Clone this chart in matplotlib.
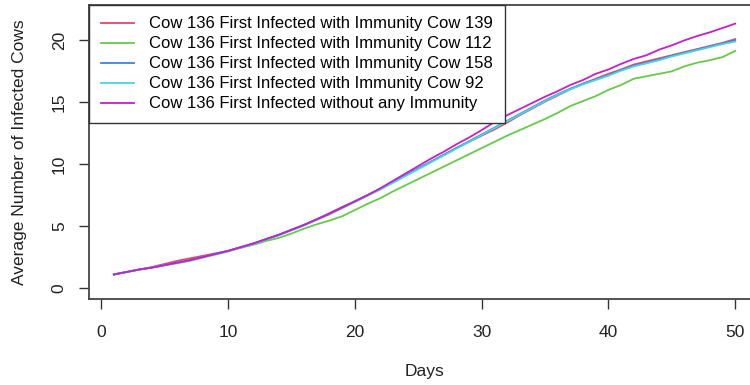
import numpy as np
import matplotlib.pyplot as plt

plt.rcParams['font.family'] = ['Liberation Sans', 'DejaVu Sans']

days = np.arange(1, 51)

# average infected cows per day, one list per scenario
cow139 = [1.1, 1.3, 1.5, 1.7, 1.95, 2.2, 2.4, 2.6, 2.8, 3.0,
          3.3, 3.6, 3.95, 4.3, 4.7, 5.1, 5.55, 6.05, 6.55, 7.0,
          7.5, 8.0, 8.55, 9.1, 9.65, 10.2, 10.75, 11.3, 11.8, 12.3,
          12.8, 13.35, 13.95, 14.5, 15.05, 15.55, 16.05, 16.5, 16.9, 17.3,
          17.65, 18.05, 18.3, 18.55, 18.8, 19.05, 19.3, 19.55, 19.8, 20.1]
cow112 = [1.1, 1.3, 1.5, 1.65, 1.85, 2.05, 2.25, 2.5, 2.75, 3.0,
          3.25, 3.5, 3.8, 4.05, 4.4, 4.8, 5.15, 5.45, 5.8, 6.3,
          6.8, 7.25, 7.8, 8.3, 8.8, 9.3, 9.8, 10.3, 10.8, 11.3,
          11.8, 12.3, 12.75, 13.2, 13.65, 14.15, 14.7, 15.1, 15.5, 16.0,
          16.4, 16.9, 17.1, 17.3, 17.5, 17.9, 18.2, 18.4, 18.65, 19.15]
cow158 = [1.1, 1.3, 1.5, 1.65, 1.85, 2.05, 2.25, 2.5, 2.75, 3.0,
          3.3, 3.6, 3.95, 4.3, 4.7, 5.1, 5.55, 6.0, 6.5, 7.0,
          7.5, 8.0, 8.55, 9.1, 9.65, 10.2, 10.75, 11.3, 11.85, 12.4,
          12.95, 13.5, 14.05, 14.6, 15.15, 15.65, 16.1, 16.5, 16.85, 17.2,
          17.6, 17.95, 18.2, 18.45, 18.75, 19.0, 19.25, 19.5, 19.75, 20.0]
cow92 = [1.1, 1.3, 1.5, 1.65, 1.85, 2.0, 2.2, 2.45, 2.7, 2.95,
         3.25, 3.55, 3.9, 4.25, 4.65, 5.05, 5.5, 5.95, 6.45, 6.95,
         7.45, 7.95, 8.5, 9.05, 9.6, 10.15, 10.7, 11.25, 11.8, 12.35,
         12.9, 13.45, 14.0, 14.55, 15.1, 15.6, 16.05, 16.45, 16.8, 17.15,
         17.55, 17.9, 18.15, 18.4, 18.7, 18.95, 19.2, 19.45, 19.7, 19.9]
no_immunity = [1.1, 1.3, 1.5, 1.65, 1.85, 2.05, 2.25, 2.5, 2.75, 3.0,
               3.3, 3.6, 3.95, 4.3, 4.7, 5.1, 5.55, 6.0, 6.5, 7.0,
               7.5, 8.05, 8.65, 9.25, 9.85, 10.45, 11.0, 11.6, 12.15, 12.75,
               13.4, 13.95, 14.45, 14.95, 15.45, 15.9, 16.4, 16.8, 17.3, 17.65,
               18.1, 18.5, 18.8, 19.25, 19.6, 20.0, 20.35, 20.65, 21.0, 21.35]

labels = ["Cow 136 First Infected with Immunity Cow 139",
          "Cow 136 First Infected with Immunity Cow 112",
          "Cow 136 First Infected with Immunity Cow 158",
          "Cow 136 First Infected with Immunity Cow 92",
          "Cow 136 First Infected without any Immunity"]
colors = ["#E5476A", "#66C94A", "#3C83DE", "#45D6E2", "#C41FC8"]
series = [cow139, cow112, cow158, cow92, no_immunity]

fig = plt.figure(figsize=(7.5, 3.85), dpi=100)
ax = fig.add_axes([0.1187, 0.2234, 0.8947, 0.7644])

for y, c, lab in zip(series, colors, labels):
    ax.plot(days, y, color=c, linewidth=1.3, label=lab)

ax.set_xlim(-0.96, 51.96)
ax.set_ylim(-0.88, 22.88)
ax.set_xticks([0, 10, 20, 30, 40, 50])
ax.set_yticks([0, 5, 10, 15, 20])
ax.tick_params(direction='out', length=7, width=1, colors='#333333',
               labelsize=12.5, labelcolor='#222222')
ax.tick_params(axis='x', pad=12)
ax.tick_params(axis='y', pad=9)
plt.setp(ax.get_yticklabels(), rotation=90, va='center')
for s in ax.spines.values():
    s.set_color('#444444')
    s.set_linewidth(1.3)

ax.set_xlabel("Days", fontsize=12.5, color='#222222', labelpad=17)
ax.set_ylabel("Average Number of Infected Cows", fontsize=12.5,
              color='#222222', labelpad=18)

leg = ax.legend(loc='upper left', bbox_to_anchor=(0, 1), borderaxespad=0,
                fontsize=12, fancybox=False, framealpha=1,
                edgecolor='#333333', handlelength=2.0, handletextpad=0.9,
                borderpad=0.7, labelspacing=0.3)
leg.get_frame().set_linewidth(1.0)

fig.savefig("out.png", dpi=100)
